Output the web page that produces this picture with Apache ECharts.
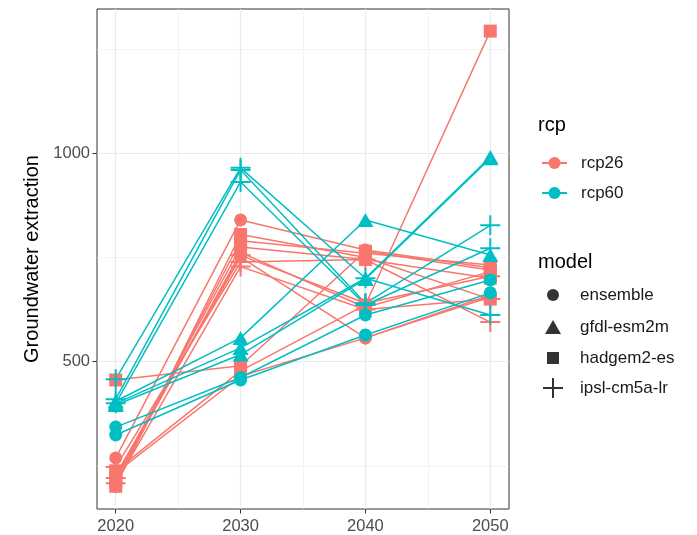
<!DOCTYPE html>
<html>
<head>
<meta charset="utf-8">
<script src="https://cdn.jsdelivr.net/npm/echarts@6/dist/echarts.min.js"></script>
<style>
  html, body { margin: 0; padding: 0; background: #ffffff; }
  #chart { width: 697px; height: 535px; }
</style>
</head>
<body>
<div id="chart"></div>
<script>
// Projection years
const years = [2020, 2030, 2040, 2050];

// Groundwater extraction per run, one row per run, values at each year
const rcp26Ensemble = [
  [269, 840, 768, 725],
  [233, 465, 557, 660],
  [228, 751, 557, 655]
];
const rcp26Hadgem = [
  [238, 478, 636, 1293],
  [456, 490, 765, 720],
  [201, 805, 750, 650],
  [212, 790, 760, 732],
  [222, 775, 745, 700],
  [215, 762, 630, 716]
];
const rcp26Ipsl = [
  [247, 739, 745, 595],
  [221, 755, 640, 705],
  [208, 728, 625, 650]
];
const rcp60Ensemble = [
  [343, 462, 612, 696],
  [324, 456, 564, 665]
];
const rcp60Gfdl = [
  [405, 557, 840, 756],
  [400, 533, 700, 991],
  [396, 517, 698, 988]
];
const rcp60Ipsl = [
  [458, 965, 700, 612],
  [410, 960, 640, 827],
  [400, 931, 636, 772]
];

const xTicks = [2020, 2030, 2040, 2050];
const xMinor = [2025, 2035, 2045];
const yTicks = [500, 1000];
const yMinor = [250, 750, 1250];

const rcpColors = { rcp26: '#F8766D', rcp60: '#00BFC4' };
const modelNames = ['ensemble', 'gfdl-esm2m', 'hadgem2-es', 'ipsl-cm5a-lr'];
const plusPath = 'path://M-1,-10H1V-1H10V1H1V10H-1V1H-10V-1H-1Z';
const modelSymbol = {
  'ensemble': { symbol: 'circle', size: 13 },
  'gfdl-esm2m': { symbol: 'triangle', size: [16, 14] },
  'hadgem2-es': { symbol: 'rect', size: 13 },
  'ipsl-cm5a-lr': { symbol: plusPath, size: 20 }
};

const groups = [
  { rcp: 'rcp26', model: 'ensemble', runs: rcp26Ensemble },
  { rcp: 'rcp26', model: 'hadgem2-es', runs: rcp26Hadgem },
  { rcp: 'rcp26', model: 'ipsl-cm5a-lr', runs: rcp26Ipsl },
  { rcp: 'rcp60', model: 'ensemble', runs: rcp60Ensemble },
  { rcp: 'rcp60', model: 'gfdl-esm2m', runs: rcp60Gfdl },
  { rcp: 'rcp60', model: 'ipsl-cm5a-lr', runs: rcp60Ipsl }
];

const FONT = 'Liberation Sans, Arial, Helvetica, sans-serif';
const series = [];

// Panel grid lines, kept beneath every mark
const gridLine = (w) => ({ color: '#ebebeb', width: w, type: 'solid' });
series.push({
  type: 'line',
  data: [],
  silent: true,
  z: 0,
  markLine: {
    z: 0,
    silent: true,
    symbol: 'none',
    animation: false,
    label: { show: false },
    emphasis: { disabled: true },
    data: [
      ...xMinor.map(v => ({ xAxis: v, lineStyle: gridLine(0.6) })),
      ...yMinor.map(v => ({ yAxis: v, lineStyle: gridLine(0.6) })),
      ...xTicks.map(v => ({ xAxis: v, lineStyle: gridLine(1.2) })),
      ...yTicks.map(v => ({ yAxis: v, lineStyle: gridLine(1.2) }))
    ]
  }
});

// Lines first, so every point sits on top of them
groups.forEach(g => {
  g.runs.forEach(run => {
    series.push({
      type: 'line',
      name: g.rcp,
      data: years.map((y, i) => [y, run[i]]),
      symbol: 'circle',
      showSymbol: false,
      color: rcpColors[g.rcp],
      lineStyle: { width: 1.5, color: rcpColors[g.rcp] },
      silent: true,
      animation: false,
      z: 2
    });
  });
});

// Points
groups.forEach(g => {
  const pts = [];
  g.runs.forEach(run => years.forEach((y, i) => pts.push([y, run[i]])));
  series.push({
    type: 'scatter',
    name: g.rcp + ' / ' + g.model,
    data: pts,
    symbol: modelSymbol[g.model].symbol,
    symbolSize: modelSymbol[g.model].size,
    itemStyle: { color: rcpColors[g.rcp], opacity: 1 },
    silent: true,
    animation: false,
    z: 3
  });
});

// Legend-only series for the model shapes
modelNames.forEach(m => {
  series.push({
    type: 'scatter',
    name: m,
    data: [],
    symbol: modelSymbol[m].symbol,
    itemStyle: { color: '#000000' }
  });
});

const legendText = (pad) => ({ fontSize: 17, color: '#1a1a1a', fontFamily: FONT, padding: [0, 0, 0, pad] });
const legendBase = { orient: 'vertical', padding: 0, selectedMode: false, inactiveColor: '#000' };

const option = {
  animation: false,
  backgroundColor: '#ffffff',
  textStyle: { fontFamily: FONT },
  title: [
    { text: 'rcp', left: 538, top: 115, padding: 0, textStyle: { fontSize: 20, fontWeight: 'normal', color: '#000', fontFamily: FONT } },
    { text: 'model', left: 538, top: 252, padding: 0, textStyle: { fontSize: 20, fontWeight: 'normal', color: '#000', fontFamily: FONT } }
  ],
  legend: [
    Object.assign({}, legendBase, { data: ['rcp26'], left: 541, top: 154.5, itemWidth: 25, itemHeight: 15, textStyle: legendText(9) }),
    Object.assign({}, legendBase, { data: ['rcp60'], left: 541, top: 184.5, itemWidth: 25, itemHeight: 15, textStyle: legendText(9) }),
    Object.assign({}, legendBase, { data: ['ensemble'], left: 547, top: 286.5, itemWidth: 12, itemHeight: 12, textStyle: legendText(16) }),
    Object.assign({}, legendBase, { data: ['gfdl-esm2m'], left: 545, top: 318.5, itemWidth: 16, itemHeight: 14, textStyle: legendText(14) }),
    Object.assign({}, legendBase, { data: ['hadgem2-es'], left: 547, top: 349.5, itemWidth: 12, itemHeight: 12, textStyle: legendText(16) }),
    Object.assign({}, legendBase, { data: ['ipsl-cm5a-lr'], left: 543, top: 378, itemWidth: 20, itemHeight: 20, textStyle: legendText(12) })
  ],
  grid: {
    left: 97, top: 9, right: 188, bottom: 26,
    show: true, borderColor: '#333333', borderWidth: 1, backgroundColor: 'transparent'
  },
  xAxis: {
    type: 'value',
    min: 2018.5,
    max: 2051.5,
    axisLine: { show: false },
    axisTick: { show: true, length: 4.5, lineStyle: { color: '#333333', width: 1 }, customValues: xTicks },
    axisLabel: { customValues: xTicks, formatter: v => String(v), color: '#4d4d4d', fontSize: 16.5, margin: 9, fontFamily: FONT },
    splitLine: { show: false }
  },
  yAxis: {
    type: 'value',
    min: 146.5,
    max: 1346,
    name: 'Groundwater extraction',
    nameLocation: 'middle',
    nameGap: 52,
    nameTextStyle: { fontSize: 20, color: '#000', fontFamily: FONT },
    axisLine: { show: false },
    axisTick: { show: true, length: 4.5, lineStyle: { color: '#333333', width: 1 }, customValues: yTicks },
    axisLabel: { customValues: yTicks, formatter: v => String(v), color: '#4d4d4d', fontSize: 16.5, margin: 7, fontFamily: FONT },
    splitLine: { show: false }
  },
  series: series
};

const chart = echarts.init(document.getElementById('chart'), null, { renderer: 'canvas' });
chart.setOption(option);
</script>
</body>
</html>
